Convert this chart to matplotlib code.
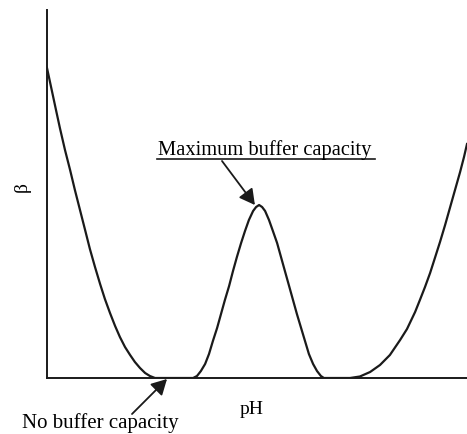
import matplotlib
import matplotlib.pyplot as plt
import numpy as np

# curve (pH, beta in arbitrary units)
ph_left = [0.0, 0.1, 0.2, 0.3, 0.43, 0.6, 0.77, 0.93, 1.1, 1.27, 1.43, 1.6,
           1.77, 1.93, 2.1, 2.27, 2.43, 2.6, 2.77, 2.93, 3.1, 3.27, 3.43, 3.6]
beta_left = [310, 296, 282, 268, 250, 228, 208, 188, 168, 148, 129, 111,
             94, 79, 65, 52, 41, 31, 23, 16, 10, 5, 2, 0]

ph_mid = [4.87, 5.0, 5.13, 5.27, 5.4, 5.53, 5.67, 5.8, 5.93, 6.07, 6.2, 6.33,
          6.47, 6.6, 6.73, 6.87, 6.97, 7.07, 7.17, 7.27, 7.4, 7.53, 7.67, 7.8,
          7.93, 8.07, 8.2, 8.33, 8.47, 8.6, 8.73, 8.87, 9.0, 9.13, 9.23]
beta_mid = [0, 2, 7, 14, 24, 37, 50, 64, 78, 92, 107, 121,
            135, 147, 158, 167, 171, 173, 171, 167, 158, 147, 135, 121,
            107, 92, 78, 64, 50, 37, 24, 14, 7, 2, 0]

ph_right = [10.1, 10.43, 10.77, 11.1, 11.43, 11.77, 12.0, 12.27, 12.43, 12.6,
            12.77, 12.93, 13.1, 13.27, 13.43, 13.6, 13.77, 13.9, 14.0]
beta_right = [0, 1.5, 6, 13, 23, 38, 49, 66, 78, 91,
              105, 120, 136, 153, 170, 188, 206, 221, 234]

peak_ph, peak_beta = 7.0, 173
zero_ph = 4.0


def main():
    plt.rcParams['font.family'] = ['Liberation Serif', 'DejaVu Serif']
    fig = plt.figure(figsize=(4.67, 4.34), dpi=100)
    ax = fig.add_axes([47 / 467, 56 / 434, 420 / 467, 368 / 434])

    ph = ph_left + ph_mid + ph_right
    beta = beta_left + beta_mid + beta_right
    ax.plot(ph, beta, color='#1a1a1a', lw=1.6, solid_joinstyle='round')
    ax.set_xlim(0, 14)
    ax.set_ylim(0, 368)
    for s in ['top', 'right']:
        ax.spines[s].set_visible(False)
    for s in ['left', 'bottom']:
        ax.spines[s].set_linewidth(1.4)
        ax.spines[s].set_color('#1a1a1a')
    ax.set_xticks([])
    ax.set_yticks([])

    fig.text(252 / 467, 1 - 409 / 434, 'pH', ha='center', va='center', fontsize=14)
    fig.text(22 / 467, 1 - 187 / 434, '\u03b2', ha='center', va='center',
             fontsize=14, rotation=90)

    arrow = dict(arrowstyle='-|>,head_length=0.55,head_width=0.3', color='#1a1a1a',
                 lw=1.3, mutation_scale=17, shrinkA=0, shrinkB=0)
    ax.annotate('', xy=(peak_ph - 0.07, peak_beta), xycoords='data',
                xytext=(222 / 467, 1 - 161 / 434), textcoords='figure fraction',
                arrowprops=arrow)
    ax.annotate('', xy=(zero_ph, -1), xycoords='data',
                xytext=(132 / 467, 1 - 414 / 434), textcoords='figure fraction',
                arrowprops=arrow, annotation_clip=False)

    fig.text(265 / 467, 1 - 155 / 434, 'Maximum buffer capacity', ha='center',
             va='baseline', fontsize=14.8)
    fig.add_artist(plt.Line2D([157 / 467, 375 / 467], [1 - 159 / 434, 1 - 159 / 434],
                              transform=fig.transFigure, color='#1a1a1a', lw=1.2))
    fig.text(100 / 467, 1 - 428 / 434, 'No buffer capacity', ha='center',
             va='baseline', fontsize=15)

    fig.savefig('out.png', dpi=100)


if __name__ == '__main__':
    main()
